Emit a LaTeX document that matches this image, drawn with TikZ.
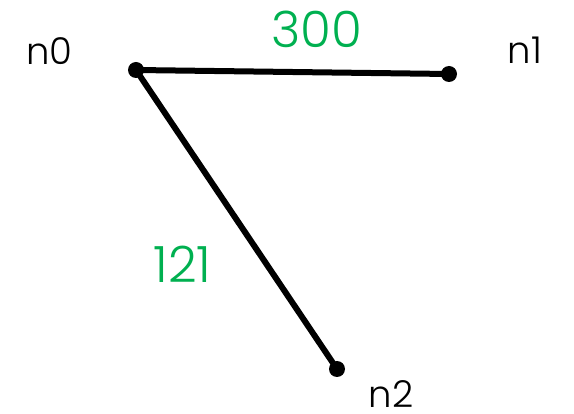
\documentclass[tikz,border=0pt]{standalone}
\usepackage{fontspec}
\setmainfont{Poppins Light}
\definecolor{wgreen}{RGB}{0,176,80}
\begin{document}
\begin{tikzpicture}[x=1pt,y=-1pt,
  vertex/.style={circle,fill=black,inner sep=0pt,minimum size=16pt},
  edge/.style={line width=6pt},
  vlabel/.style={inner sep=0pt,font=\fontsize{37}{40}\selectfont},
  wlabel/.style={inner sep=0pt,text=wgreen,font=\fontsize{50}{54}\selectfont}]
\useasboundingbox (0,0) rectangle (574,414);
\node[vertex] (a) at (136,70) {};
\node[vertex] (b) at (449,74) {};
\node[vertex] (c) at (337,369) {};
\draw[edge] (a.center) -- (b.center);
\draw[edge] (a.center) -- (c.center);
\node[vlabel] (la) at (49.5,51) {n0};
\node[vlabel] (lb) at (525,50) {n1};
\node[vlabel] (lc) at (391,394) {n2};
\node[wlabel] (w1) at (317,29) {300};
\node[wlabel] (w2) at (182.5,264.5) {121};
\end{tikzpicture}
\end{document}
